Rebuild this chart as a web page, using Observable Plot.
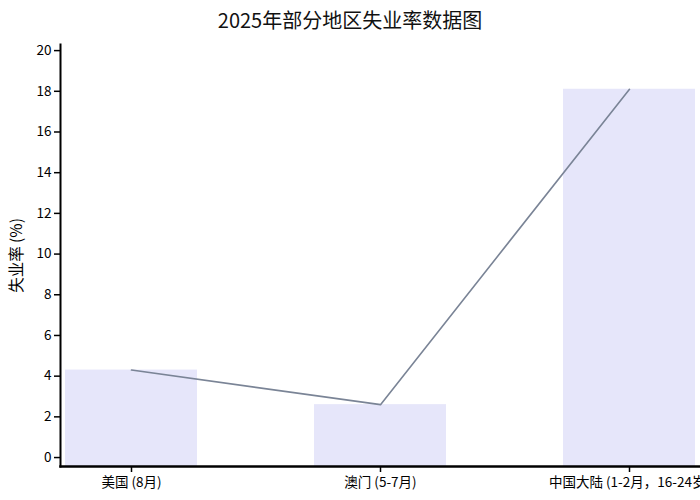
<!DOCTYPE html>
<html>
<head>
<meta charset="utf-8">
<script src="https://cdn.jsdelivr.net/npm/d3@7"></script>
<script src="https://cdn.jsdelivr.net/npm/@observablehq/plot@0.6"></script>
<style>
  html, body { margin: 0; padding: 0; background: white; overflow: hidden; }
  #title { height: 40px; line-height: 40px; text-align: center; font-family: "Noto Sans CJK SC", sans-serif; font-size: 20px; color: #111; }
</style>
</head>
<body>
<div id="title">2025年部分地区失业率数据图</div>
<div id="chart"></div>
<script>
const regions = ["美国 (8月)", "澳门 (5-7月)", "中国大陆 (1-2月，16-24岁)"];
const rates = [4.3, 2.6, 18.1];
const yTicks = [0, 2, 4, 6, 8, 10, 12, 14, 16, 18, 20];
const yLabel = "失业率 (%)";

const data = regions.map((r, i) => ({region: r, rate: rates[i]}));
const font = "'Noto Sans CJK SC', sans-serif";

const plot = Plot.plot({
  width: 700,
  height: 460,
  marginLeft: 60,
  marginRight: 0,
  marginTop: 4,
  marginBottom: 34,
  style: {fontFamily: font, fontSize: "13px", color: "black", background: "white"},
  x: {domain: regions, paddingInner: 0.47, paddingOuter: 0.02, label: null},
  y: {domain: [-0.44, 20.3], label: null},
  marks: [
    Plot.barY(data, {x: "region", y1: -0.44, y2: "rate", fill: "#e6e6fa"}),
    Plot.line(data, {x: "region", y: "rate", stroke: "#7a8496", strokeWidth: 1.6}),
    Plot.axisY({ticks: yTicks, tickSize: 6, tickPadding: 3, strokeWidth: 1.5, fontSize: 13.5, label: null}),
    Plot.axisY({ticks: [], tickSize: 0, fontSize: 15.5, label: yLabel, labelAnchor: "center", labelOffset: 50, labelArrow: "none"}),
    Plot.axisX({tickSize: 6, tickPadding: 5, strokeWidth: 1.5, fontSize: 13.5, label: null}),
    Plot.frame({anchor: "left", strokeWidth: 2, stroke: "black"}),
    Plot.frame({anchor: "bottom", strokeWidth: 2.5, stroke: "black"})
  ]
});
document.getElementById("chart").appendChild(plot);
</script>
</body>
</html>
